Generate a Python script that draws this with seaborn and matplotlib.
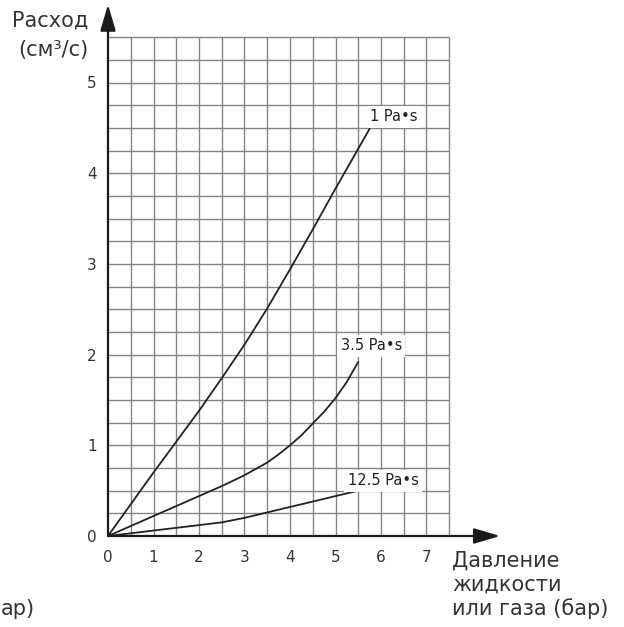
import numpy as np
import pandas as pd
import matplotlib
matplotlib.use("Agg")
import matplotlib.pyplot as plt
import seaborn as sns

# ---- data ----
p_1 = [0, 0.5, 1, 1.5, 2, 2.5, 3, 3.5, 4, 4.5, 5, 5.5, 5.75]
q_1 = [0, 0.35, 0.70, 1.04, 1.38, 1.74, 2.11, 2.51, 2.94, 3.38, 3.83, 4.27, 4.49]
p_35 = [0, 0.5, 1, 1.5, 2, 2.5, 3, 3.5, 3.75, 4, 4.25, 4.5, 4.75, 5, 5.25, 5.5]
q_35 = [0, 0.11, 0.22, 0.33, 0.44, 0.55, 0.67, 0.81, 0.90, 1.00, 1.11, 1.24, 1.37, 1.52, 1.70, 1.92]
p_125 = [0, 0.5, 1, 1.5, 2, 2.5, 3, 3.5, 4, 4.5, 5, 5.5]
q_125 = [0, 0.03, 0.06, 0.09, 0.12, 0.15, 0.20, 0.26, 0.32, 0.38, 0.44, 0.50]
series_names = ["1 Pa•s", "3.5 Pa•s", "12.5 Pa•s"]
label_pos_x = [5.76, 5.11, 5.27]
label_pos_y = [4.62, 2.10, 0.61]
x_ticks = [0, 1, 2, 3, 4, 5, 6, 7]
y_ticks = [0, 1, 2, 3, 4, 5]
y_title = "Расход\n(см³/с)"
x_title = "Давление\nжидкости\nили газа (бар)"
stray_text = "ар)"

df = pd.concat([
    pd.DataFrame({"p": p_1, "q": q_1, "visc": series_names[0]}),
    pd.DataFrame({"p": p_35, "q": q_35, "visc": series_names[1]}),
    pd.DataFrame({"p": p_125, "q": q_125, "visc": series_names[2]}),
])

sns.set_style("white")
plt.rcParams["font.family"] = ["DejaVu Sans"]

W, H = 624, 627
fig = plt.figure(figsize=(W / 100, H / 100), dpi=100)
x0, y0 = 108, 536          # origin pixel (from top-left)
sx, sy = 45.5, 90.7        # px per unit
xmax, ymax = 8.6, 5.9
ax = fig.add_axes([x0 / W, (H - y0) / H, xmax * sx / W, ymax * sy / H])
ax.set_xlim(0, xmax)
ax.set_ylim(0, ymax)
for s in ax.spines.values():
    s.set_visible(False)
ax.set_facecolor("none")

# grid (bounded)
gcol = "#858585"
ax.vlines(np.arange(0.5, 7.51, 0.5), 0, 5.5, color=gcol, lw=1.0, zorder=1)
ax.hlines(np.arange(0.25, 5.51, 0.25), 0, 7.5, color=gcol, lw=1.0, zorder=1)

# curves
sns.lineplot(data=df, x="p", y="q", units="visc", estimator=None, sort=False,
             color="#222222", lw=1.3, ax=ax, zorder=3, legend=False)

# curve labels
for name, lx, ly in zip(series_names, label_pos_x, label_pos_y):
    ax.text(lx, ly, name, fontsize=10.5, color="#222222", ha="left", va="center",
            zorder=4, bbox=dict(fc="white", ec="none", pad=2.5))

# axes with arrows
acol = "#1a1a1a"
arrow = dict(arrowstyle="-|>,head_length=1.6,head_width=0.47",
             mutation_scale=10, lw=1.6, color=acol, shrinkA=0, shrinkB=0)
ax.annotate("", xy=(8.62, 0), xytext=(0, 0), annotation_clip=False,
            arrowprops=arrow, zorder=5)
ax.annotate("", xy=(0, 5.86), xytext=(0, 0), annotation_clip=False,
            arrowprops=arrow, zorder=5)

ax.set_xticks(x_ticks)
ax.set_yticks(y_ticks)
ax.set_xticklabels([str(t) for t in x_ticks])
ax.set_yticklabels([str(t) for t in y_ticks])
ax.tick_params(axis="both", direction="out", length=4, width=1, color=acol,
               labelsize=11, labelcolor="#333333")
ax.tick_params(axis="x", pad=6)
ax.tick_params(axis="y", pad=4)
ax.set_xlabel("")
ax.set_ylabel("")

tcol = "#333333"
for line, yc in zip(y_title.split("\n"), [21, 50]):
    fig.text(88 / W, 1 - yc / H, line, ha="right", va="center", fontsize=15, color=tcol)
for line, yc in zip(x_title.split("\n"), [561, 585, 609]):
    fig.text(452 / W, 1 - yc / H, line, ha="left", va="center", fontsize=15, color=tcol)
fig.text(1 / W, 1 - 609 / H, stray_text, ha="left", va="center", fontsize=15, color=tcol)

fig.savefig("out.png", dpi=100, facecolor="white")
